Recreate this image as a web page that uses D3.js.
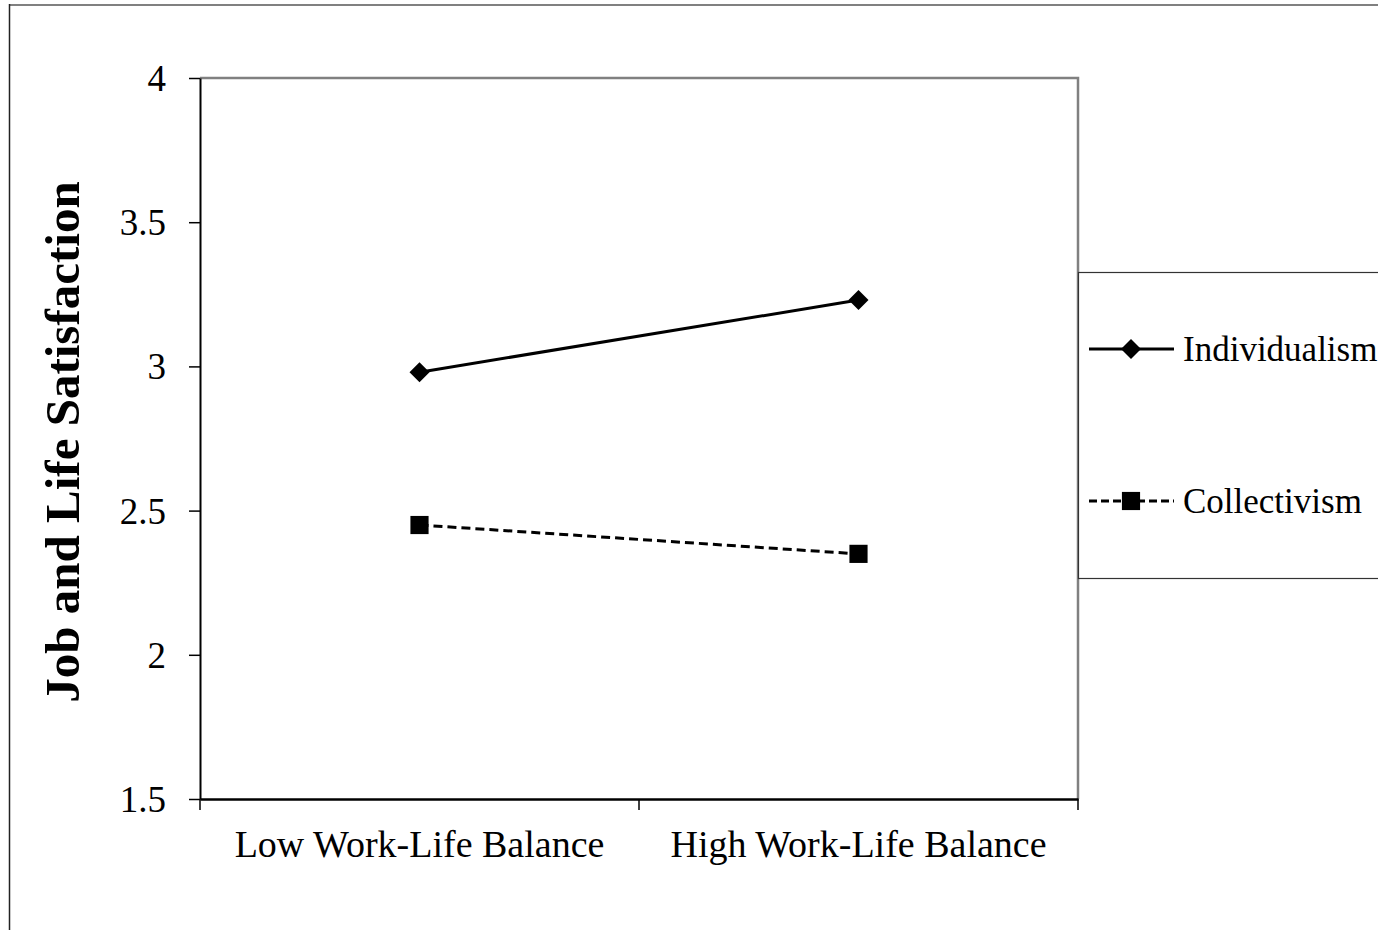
<!DOCTYPE html>
<html>
<head>
    <title>Job and Life Satisfaction</title>
    <script src="https://d3js.org/d3.v7.min.js"></script>
    <style>
        body {
            margin: 0;
            background: white;
            font-family: "Liberation Serif", "Times New Roman", serif;
        }
        .tick text {
            font-family: "Liberation Serif", "Times New Roman", serif;
            fill: black;
        }
    </style>
</head>
<body>
    <div id="chart"></div>
    <script>
        // data
        const categories = ["Low Work-Life Balance", "High Work-Life Balance"];
        const individualism = [2.98, 3.23];
        const collectivism = [2.45, 2.35];
        const seriesNames = ["Individualism", "Collectivism"];
        const yTicks = [1.5, 2, 2.5, 3, 3.5, 4];

        const width = 1378, height = 930;
        const margin = { top: 78, right: 300, bottom: 131, left: 200 };

        const svg = d3.select("#chart").append("svg")
            .attr("width", width)
            .attr("height", height);

        const xScale = d3.scaleBand()
            .domain(categories)
            .range([margin.left, width - margin.right])
            .padding(0);
        const yScale = d3.scaleLinear()
            .domain([1.5, 4])
            .range([height - margin.bottom, margin.top]);

        // outer frame (only top and left show)
        svg.append("line")
            .attr("x1", 9).attr("x2", width)
            .attr("y1", 5).attr("y2", 5)
            .attr("stroke", "#808080").attr("stroke-width", 2);
        svg.append("line")
            .attr("x1", 9.5).attr("x2", 9.5)
            .attr("y1", 4).attr("y2", height)
            .attr("stroke", "#222").attr("stroke-width", 1.5);

        const x0 = margin.left, x1 = width - margin.right;
        const y0 = height - margin.bottom, y1 = margin.top;

        // plot area top and right borders
        svg.append("path")
            .attr("d", "M" + x0 + "," + y1 + "H" + x1 + "V" + y0)
            .attr("fill", "none")
            .attr("stroke", "#808080")
            .attr("stroke-width", 2.5);

        // y axis
        const yAxis = svg.append("g")
            .attr("transform", "translate(" + x0 + ",0)")
            .call(d3.axisLeft(yScale)
                .tickValues(yTicks)
                .tickSize(11)
                .tickPadding(23)
                .tickSizeOuter(0)
                .tickFormat(d3.format("")));
        yAxis.select(".domain").attr("stroke", "black").attr("stroke-width", 2);
        yAxis.selectAll(".tick line").attr("stroke", "black").attr("stroke-width", 1.5);
        yAxis.selectAll(".tick text").style("font-size", "37px").attr("dy", "0.34em");

        // x axis labels at band centres
        const xAxis = svg.append("g")
            .attr("transform", "translate(0," + y0 + ")")
            .call(d3.axisBottom(xScale)
                .tickSize(0)
                .tickPadding(31)
                .tickSizeOuter(0));
        xAxis.select(".domain").attr("stroke", "black").attr("stroke-width", 2.5);
        xAxis.selectAll(".tick text").style("font-size", "38px");

        // x ticks at band edges
        const edges = categories.map(c => xScale(c)).concat([x1]);
        svg.append("g").selectAll("line")
            .data(edges)
            .enter().append("line")
            .attr("x1", d => d).attr("x2", d => d)
            .attr("y1", y0).attr("y2", y0 + 11)
            .attr("stroke", "black").attr("stroke-width", 1.5);

        // y title
        svg.append("text")
            .attr("transform", "rotate(-90)")
            .attr("x", -442)
            .attr("y", 79)
            .style("text-anchor", "middle")
            .style("font-size", "49px")
            .style("font-weight", "bold")
            .text("Job and Life Satisfaction");

        const cx = d => xScale(d) + xScale.bandwidth() / 2;
        const line = d3.line()
            .x((d, i) => cx(categories[i]))
            .y(d => yScale(d));

        const diamond = d3.symbol().type(d3.symbolSquare).size(200);
        const square = d3.symbol().type(d3.symbolSquare).size(330);

        // Individualism
        svg.append("path")
            .datum(individualism)
            .attr("d", line)
            .attr("fill", "none")
            .attr("stroke", "black")
            .attr("stroke-width", 3);
        svg.selectAll(".ind")
            .data(individualism)
            .enter().append("path")
            .attr("class", "ind")
            .attr("d", diamond)
            .attr("transform", (d, i) => "translate(" + cx(categories[i]) + "," + yScale(d) + ") rotate(45)")
            .attr("fill", "black");

        // Collectivism
        svg.append("path")
            .datum(collectivism)
            .attr("d", line)
            .attr("fill", "none")
            .attr("stroke", "black")
            .attr("stroke-width", 3)
            .attr("stroke-dasharray", "9,5");
        svg.selectAll(".col")
            .data(collectivism)
            .enter().append("path")
            .attr("class", "col")
            .attr("d", square)
            .attr("transform", (d, i) => "translate(" + cx(categories[i]) + "," + yScale(d) + ")")
            .attr("fill", "black");

        // legend
        const legend = svg.append("g");
        legend.append("rect")
            .attr("x", 1078.5).attr("y", 272.5)
            .attr("width", 400).attr("height", 306)
            .attr("fill", "white")
            .attr("stroke", "#333").attr("stroke-width", 1.2);

        const legendRows = [
            { name: seriesNames[0], y: 349, dash: null, symbol: diamond, rot: 45 },
            { name: seriesNames[1], y: 501, dash: "8,4", symbol: square, rot: 0 }
        ];
        legendRows.forEach(r => {
            legend.append("line")
                .attr("x1", 1089).attr("x2", 1174)
                .attr("y1", r.y).attr("y2", r.y)
                .attr("stroke", "black")
                .attr("stroke-width", 3)
                .attr("stroke-dasharray", r.dash);
            legend.append("path")
                .attr("d", r.symbol)
                .attr("transform", "translate(1131," + r.y + ") rotate(" + r.rot + ")")
                .attr("fill", "black");
            legend.append("text")
                .attr("x", 1183)
                .attr("y", r.y)
                .attr("dy", "0.34em")
                .style("font-size", "35px")
                .text(r.name);
        });
    </script>
</body>
</html>
